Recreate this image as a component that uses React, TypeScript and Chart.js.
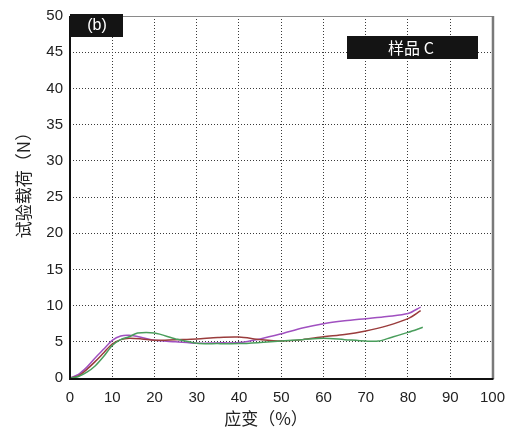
import React, { useEffect, useRef } from "react";
import { Chart, registerables } from "chart.js";

Chart.register(...registerables);

const xTicks = [0, 10, 20, 30, 40, 50, 60, 70, 80, 90, 100];
const yTicks = [0, 5, 10, 15, 20, 25, 30, 35, 40, 45, 50];

const purpleX = [0, 2, 4, 6, 8, 10, 12, 14, 17, 20, 25, 30, 35, 40, 45, 50, 55, 60, 65, 70, 75, 80, 83];
const purpleY = [0, 0.5, 1.5, 2.8, 4.0, 5.2, 5.8, 5.9, 5.6, 5.2, 5.0, 4.8, 4.85, 4.9, 5.4, 6.1, 6.9, 7.5, 7.9, 8.2, 8.5, 8.9, 9.8];

const brownX = [0, 2, 4, 6, 8, 10, 12, 14, 17, 20, 25, 30, 35, 40, 45, 50, 55, 60, 65, 70, 75, 80, 83];
const brownY = [0, 0.3, 1.2, 2.3, 3.5, 4.7, 5.3, 5.5, 5.4, 5.2, 5.3, 5.4, 5.6, 5.65, 5.3, 5.1, 5.3, 5.7, 6.0, 6.5, 7.2, 8.2, 9.3];

const greenX = [0, 2, 4, 6, 8, 10, 12, 14, 16, 20, 25, 30, 35, 40, 45, 50, 55, 60, 65, 70, 73, 76, 80, 83.5];
const greenY = [0, 0.2, 0.8, 1.7, 3.0, 4.5, 5.3, 5.7, 6.2, 6.2, 5.4, 4.8, 4.75, 4.75, 4.9, 5.1, 5.3, 5.5, 5.3, 5.1, 5.1, 5.6, 6.3, 7.0];

const panelLabel = "(b)";
const sampleLabel = "样品 C";
const xTitle = "应变（%）";
const yTitle = "试验载荷（N）";

const toPoints = (xs: number[], ys: number[]) => xs.map((x, i) => ({ x, y: ys[i] }));

const CJK = '"Noto Sans CJK SC", "Noto Sans", sans-serif';
const LAT = '"Liberation Sans", Arial, sans-serif';

const overlay = {
  id: "overlay",
  afterDraw(chart: any) {
    const { ctx, chartArea } = chart;
    const { left, right, top, bottom } = chartArea;
    ctx.save();
    ctx.strokeStyle = "#8a8a8a";
    ctx.lineWidth = 1;
    ctx.beginPath();
    ctx.moveTo(left, top + 0.5);
    ctx.lineTo(right, top + 0.5);
    ctx.stroke();
    ctx.lineWidth = 2.5;
    ctx.strokeStyle = "#7a7a7a";
    ctx.beginPath();
    ctx.moveTo(right + 0.5, top);
    ctx.lineTo(right + 0.5, bottom + 1);
    ctx.stroke();
    ctx.strokeStyle = "#111";
    ctx.lineWidth = 2;
    ctx.beginPath();
    ctx.moveTo(left, top);
    ctx.lineTo(left, bottom + 1);
    ctx.lineTo(right + 1, bottom + 1);
    ctx.stroke();

    ctx.fillStyle = "#141414";
    ctx.fillRect(left, top - 2, 53, 23);
    ctx.fillStyle = "#fff";
    ctx.font = `16px ${LAT}`;
    ctx.textAlign = "center";
    ctx.textBaseline = "middle";
    ctx.fillText(panelLabel, left + 27, top + 10);

    ctx.fillStyle = "#141414";
    ctx.fillRect(347, 36, 131, 23);
    ctx.fillStyle = "#fff";
    ctx.font = `16px ${CJK}`;
    ctx.fillText(sampleLabel, 411, 47.5);

    ctx.fillStyle = "#222";
    ctx.font = `17px ${CJK}`;
    ctx.fillText(xTitle, 266, 419);
    ctx.translate(24, 181);
    ctx.rotate(-Math.PI / 2);
    ctx.fillText(yTitle, 0, 0);
    ctx.restore();
  },
};

export default function App() {
  const ref = useRef<HTMLCanvasElement>(null);
  useEffect(() => {
    if (!ref.current) return;
    const grid = {
      color: "#3a3a3a",
      lineWidth: 1,
      drawTicks: false,
    };
    const chart = new Chart(ref.current, {
      type: "line",
      data: {
        datasets: [
          { data: toPoints(greenX, greenY), borderColor: "#4a9e5c", borderWidth: 1.5, pointRadius: 0, tension: 0.3, fill: false },
          { data: toPoints(brownX, brownY), borderColor: "#9a3c3c", borderWidth: 1.5, pointRadius: 0, tension: 0.3, fill: false },
          { data: toPoints(purpleX, purpleY), borderColor: "#a050c0", borderWidth: 1.5, pointRadius: 0, tension: 0.3, fill: false },
        ],
      },
      options: {
        responsive: false,
        animation: false,
        devicePixelRatio: 1,
        layout: { padding: { top: 14, right: 21, left: 0, bottom: 0 } },
        plugins: { legend: { display: false }, tooltip: { enabled: false } },
        scales: {
          x: {
            type: "linear",
            min: 0,
            max: 100,
            afterBuildTicks: (s: any) => { s.ticks = xTicks.map((v) => ({ value: v })); },
            afterFit: (s: any) => { s.height = 54; },
            grid: { ...grid },
            border: { display: false, dash: [1, 2] },
            ticks: { color: "#222", padding: 11, font: { family: LAT, size: 15 }, maxRotation: 0 },
          },
          y: {
            type: "linear",
            min: 0,
            max: 50,
            afterBuildTicks: (s: any) => { s.ticks = yTicks.map((v) => ({ value: v })); },
            afterFit: (s: any) => { s.width = 70; },
            grid: { ...grid },
            border: { display: false, dash: [1, 2] },
            ticks: { color: "#222", padding: 7, font: { family: LAT, size: 15 } },
          },
        },
      },
      plugins: [overlay],
    } as any);
    return () => chart.destroy();
  }, []);
  return (
    <div style={{ position: "absolute", left: 0, top: 0, width: 516, height: 432, background: "#fff" }}>
      <canvas ref={ref} width={516} height={432} />
    </div>
  );
}
